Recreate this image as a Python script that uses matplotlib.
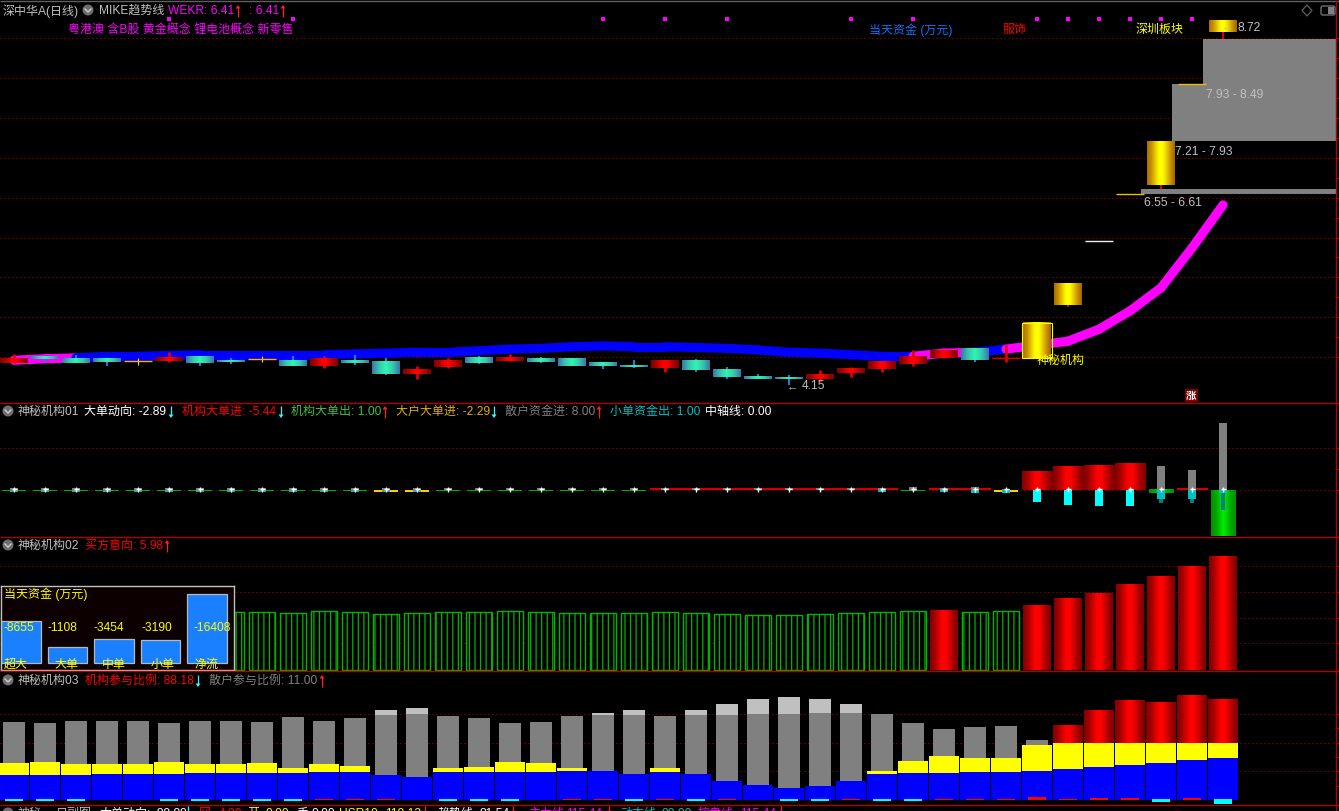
"""K-line sheet with three indicator panes, dark terminal style."""
import matplotlib
matplotlib.use("Agg")
import matplotlib.pyplot as plt
import numpy as np
from matplotlib.colors import LinearSegmentedColormap
from matplotlib.patches import Circle, Polygon, Rectangle, FancyBboxPatch

plt.rcParams["font.family"] = ["Liberation Sans", "Noto Sans CJK SC", "DejaVu Sans"]
plt.rcParams["font.size"] = 8.64
plt.rcParams["hatch.linewidth"] = 0.9

W, H = 1339, 811

# ----------------------------------------------------------------------
# Data
# ----------------------------------------------------------------------
opens = [4.43, 4.51, 4.49, 4.48, 4.45, 4.45, 4.51, 4.46, 4.48, 4.46,
         4.39, 4.46, 4.45, 4.29, 4.38, 4.50, 4.45, 4.49, 4.48, 4.43,
         4.40, 4.36, 4.46, 4.34, 4.26, 4.25, 4.23, 4.30, 4.35, 4.41,
         4.49, 4.60, 4.48, 4.49, 5.15, 5.96, 6.55, 6.66, 7.93, 8.58]
closes = [4.49, 4.48, 4.43, 4.44, 4.45, 4.49, 4.43, 4.44, 4.48, 4.39,
          4.49, 4.43, 4.29, 4.35, 4.46, 4.43, 4.49, 4.44, 4.39, 4.39,
          4.38, 4.45, 4.34, 4.25, 4.23, 4.23, 4.29, 4.36, 4.44, 4.51,
          4.59, 4.46, 4.49, 4.93, 5.42, 5.96, 6.55, 7.21, 7.93, 8.72]
highs = [4.54, 4.51, 4.53, 4.48, 4.49, 4.56, 4.51, 4.49, 4.51, 4.51,
         4.51, 4.53, 4.49, 4.39, 4.49, 4.51, 4.54, 4.50, 4.49, 4.44,
         4.46, 4.45, 4.48, 4.38, 4.29, 4.28, 4.34, 4.38, 4.45, 4.59,
         4.59, 4.61, 4.65, 4.93, 5.42, 5.96, 6.55, 7.21, 7.93, 8.72]
lows = [4.43, 4.44, 4.43, 4.39, 4.40, 4.44, 4.39, 4.41, 4.44, 4.39,
        4.36, 4.40, 4.28, 4.23, 4.36, 4.41, 4.45, 4.43, 4.39, 4.35,
        4.36, 4.31, 4.31, 4.23, 4.23, 4.15, 4.19, 4.25, 4.31, 4.39,
        4.49, 4.44, 4.44, 4.49, 5.13, 5.96, 6.55, 6.61, 7.93, 8.49]
# r rise, t fall, d doji, g limit-up gold, w one-price white
candle_kinds = "rtttdrttdtrttrrtrttttrttttrrrrrtrggwgggg"

trend_line = [4.46, 4.48, 4.49, 4.51, 4.51, 4.52, 4.53, 4.53, 4.53, 4.53,
              4.53, 4.54, 4.55, 4.56, 4.56, 4.58, 4.60, 4.61, 4.63, 4.64,
              4.63, 4.63, 4.62, 4.61, 4.59, 4.56, 4.55, 4.53, 4.51, 4.51,
              4.55, 4.56, 4.60, 4.65, 4.70, 4.85, 5.08, 5.37, 5.87, 6.41]
trend_kinds = "mm" + "b" * 27 + "mm" + "b" + "m" * 7

gap_low = [6.55, 7.21, 7.93]
gap_high = [6.61, 7.93, 8.49]
gap_labels = ["6.55 - 6.61", "7.21 - 7.93", "7.93 - 8.49"]
signal_bars = [5, 9, 19, 21, 23, 27, 29, 33, 34, 35, 36, 37, 38]
price_grid = [4.5, 5.0, 5.5, 6.0, 6.5, 7.0, 7.5, 8.0, 8.5]

big_flow = [-0.15, -0.15, -0.15, -0.15, -0.15, -0.15, -0.15, -0.15, -0.15, -0.15,
            -0.15, -0.15, -0.2, -0.2, -0.15, -0.15, -0.15, -0.15, -0.15, -0.15,
            -0.15, 0.2, 0.2, 0.2, 0.2, 0.2, 0.2, 0.2, 0.2, -0.15,
            0.2, 0.2, -0.2, 2.26, 2.74, 2.86, 3.10, -0.36, 0.2, -5.44]
flow_kinds = "gggggggggggg" + "yy" + "ggggggg" + "rrrrrrrr" + "g" + "rr" + "y" + "rrrr" + "grg"
retail_in = [0.25, 0.25, 0.25, 0.25, 0.25, 0.25, 0.25, 0.25, 0.25, 0.25,
             0.25, 0.25, 0.25, 0.25, 0.2, 0.2, 0.2, 0.2, 0.2, 0.2,
             0.2, 0.2, 0.2, 0.2, 0.2, 0.2, 0.2, 0.2, 0.24, 0.36,
             0.24, 0.36, 0.12, 0.0, 0.0, 0.0, 0.0, 2.86, 2.38, 8.00]
small_out = [-0.2, -0.2, -0.2, -0.2, -0.2, -0.2, -0.2, -0.2, -0.2, -0.2,
             -0.2, -0.2, -0.2, -0.2, 0.0, 0.0, 0.0, 0.0, 0.0, 0.0,
             0.0, 0.0, 0.0, 0.0, 0.0, 0.0, 0.0, 0.0, -0.24, -0.12,
             -0.24, -0.36, -0.36, -1.43, -1.79, -1.90, -1.90, -1.07, -1.07, -0.36]
big_net = [0.0, 0.0, 0.0, 0.0, 0.0, 0.0, 0.0, 0.0, 0.0, 0.0,
           0.0, 0.0, 0.0, 0.0, 0.0, 0.0, 0.0, 0.0, 0.0, 0.0,
           0.0, 0.0, 0.0, 0.0, 0.0, 0.0, 0.0, 0.0, 0.0, 0.0,
           0.0, 0.0, 0.0, 0.0, 0.0, 0.0, 0.0, -1.55, -1.55, -2.40]

buy_intent = [3.07, 3.07, 3.07, 3.07, 3.07, 3.07, 3.07, 3.07, 3.07, 3.02,
              3.12, 3.07, 2.96, 3.02, 3.07, 3.07, 3.12, 3.07, 3.02, 3.02,
              3.02, 3.07, 3.02, 2.96, 2.91, 2.91, 2.96, 3.02, 3.07, 3.12,
              3.17, 3.07, 3.12, 3.39, 3.76, 4.07, 4.50, 4.97, 5.45, 5.98]
intent_solid = [30, 33, 34, 35, 36, 37, 38, 39]

fund_labels = ["超大", "大单", "中单", "小单", "净流"]
fund_values = ["-8655", "-1108", "-3454", "-3190", "-16408"]
fund_bar_heights = [42, 16, 24, 23, 69]

inst_blue = [21.8, 21.8, 21.8, 22.7, 22.7, 22.7, 23.6, 23.6, 23.6, 23.6,
             24.5, 24.5, 21.8, 20.1, 24.5, 24.5, 24.5, 24.5, 25.3, 25.3,
             22.7, 24.5, 22.7, 16.6, 13.1, 10.5, 12.2, 16.6, 22.7, 23.6,
             23.6, 24.5, 24.5, 25.3, 27.1, 28.8, 30.6, 32.3, 34.9, 36.7]
inst_yellow = [32.3, 33.2, 31.4, 31.4, 31.4, 33.2, 31.4, 31.4, 32.3, 27.9,
               31.4, 29.7, 0, 0, 27.9, 28.8, 33.2, 32.3, 27.9, 0,
               0, 27.9, 0, 0, 0, 0, 0, 0, 25.3, 34.1,
               38.4, 36.7, 36.7, 48.0, 49.8, 49.8, 49.8, 49.8, 49.8, 49.8]
inst_red = [0, 0, 0, 0, 0, 0, 0, 0, 0, 0,
            0, 0, 0, 0, 0, 0, 0, 0, 0, 0,
            0, 0, 0, 0, 0, 0, 0, 0, 0, 0,
            0, 0, 0, 0, 65.5, 78.6, 86.5, 85.6, 91.7, 88.2]
retail_gray = [68.1, 67.2, 69.0, 69.0, 69.0, 67.2, 69.0, 69.0, 68.1, 72.5,
               69.0, 71.6, 74.2, 75.1, 73.4, 71.6, 67.2, 68.1, 73.4, 74.2,
               74.2, 73.4, 74.2, 74.2, 75.1, 75.1, 76.0, 76.0, 75.1, 67.2,
               62.0, 63.8, 64.6, 52.4, 0, 0, 0, 0, 0, 0]
retail_light = [0, 0, 0, 0, 0, 0, 0, 0, 0, 0,
                0, 0, 78.6, 80.3, 0, 0, 0, 0, 0, 76.0,
                78.6, 0, 78.6, 83.8, 88.2, 90.0, 88.2, 83.8, 0, 0,
                0, 0, 0, 0, 0, 0, 0, 0, 0, 0]
tail_flow = [-0.9, -0.9, -0.9, 0, 0, -0.9, -0.9, -0.9, -0.9, -0.9,
             0.9, 0.9, 0.9, 0, -0.9, -0.9, -0.9, 0, 0.9, 0.9,
             -0.9, 0.9, -0.9, 0.9, 0, -0.9, -0.5, 0.9, -0.9, -0.9,
             0.9, 0.9, 0.9, 2.6, 0.9, 1.7, 1.7, -1.7, 1.7, -3.5]

GRID_RED = "#b40000"
LINE_RED = "#b00000"
GREY_TEXT = "#c0c0c0"

n_bars = len(opens)
idx = np.arange(n_bars)

red_cm = LinearSegmentedColormap.from_list(
    "r", ["#800000", "#a00000", "#d00000", "#ff0000", "#ff0000", "#d00000", "#a00000", "#800000"])
teal_cm = LinearSegmentedColormap.from_list("t", ["#3a78a8", "#35c8b0", "#30f5b0", "#35c8b0", "#3a78a8"])
gold_cm = LinearSegmentedColormap.from_list(
    "g", ["#a87000", "#c89000", "#e8c800", "#ffff00", "#ffff00", "#e8c800", "#c89000", "#a06800"])
green_cm = LinearSegmentedColormap.from_list("n", ["#009000", "#00b000", "#00f000", "#00b000", "#009000"])
ramp = np.linspace(0, 1, 48)[None, :]


# ----------------------------------------------------------------------
# Helpers
# ----------------------------------------------------------------------
def px_axes(fig, top, bottom, left=0, right=1336):
    ax = fig.add_axes([left / W, 1 - bottom / H, (right - left) / W, (bottom - top) / H])
    ax.set_facecolor("black")
    ax.set_xlim((left - 14) / 31, (right - 14) / 31)
    ax.set_autoscale_on(False)
    ax.set_xticks([])
    for name in ["top", "left", "bottom"]:
        ax.spines[name].set_visible(False)
    ax.spines["right"].set_color(LINE_RED)
    ax.yaxis.tick_right()
    ax.tick_params(axis="y", which="both", colors=LINE_RED, length=2.2, width=0.8, labelright=False)
    return ax


def dotted_grid(ax):
    ax.grid(True, axis="y", color=GRID_RED, lw=0.72, ls=(0, (1, 3)))
    ax.set_axisbelow(True)


def grad_bar(ax, x, y0, y1, width, cmap, zorder=3):
    ax.imshow(ramp, cmap=cmap, extent=(x - width / 2, x + width / 2, y0, y1), aspect="auto",
              interpolation="bilinear", origin="lower", zorder=zorder)


def label(ov, x, y, s, color=GREY_TEXT, **kw):
    ov.text(x, y + 1, s, color=color, va="center", ha=kw.pop("ha", "left"), **kw)


def arrow(ov, x, y, up, color):
    y = y + 1
    sign = -1 if up else 1
    ov.plot([x, x], [y - sign * 6, y + sign * 4], color=color, lw=0.9, solid_capstyle="butt")
    ov.add_patch(Polygon([[x - 2.5, y + sign * 2.5], [x + 2.5, y + sign * 2.5], [x, y + sign * 6]],
                         closed=True, color=color, lw=0))


def icon(ov, x, y):
    ov.add_patch(Circle((x, y), 5.5, color="#6e6e6e", lw=0))
    ov.plot([x - 3, x, x + 3], [y - 1, y + 2, y - 1], color="#d0d0d0", lw=1.0)


# ----------------------------------------------------------------------
# Figure
# ----------------------------------------------------------------------
fig = plt.figure(figsize=(W / 100, H / 100), dpi=100, facecolor="black")

# main pane: price runs 79.7 px per yuan, 4.15 sits at y=385
ax = px_axes(fig, 2, 403)
ax.set_ylim(4.15 - 18 / 79.7, 4.15 + 383 / 79.7)
ax.set_yticks(price_grid)
ax.set_yticks(np.array(price_grid[:-1]) + 0.25, minor=True)
dotted_grid(ax)

for low, high, start in zip(gap_low, gap_high, [36.35, 37.35, 38.35]):
    ax.barh(low, (1336 - 14) / 31 - start, left=start, height=high - low, align="edge",
            color="#808080", zorder=2)

trend_colors = {"m": "#ff00ff", "b": "#0000ff"}
for i in range(n_bars - 1):
    ax.plot(idx[i:i + 2], trend_line[i:i + 2], color=trend_colors[trend_kinds[i]], lw=6.6,
            solid_capstyle="round", zorder=3)

body_cm = {"r": red_cm, "t": teal_cm, "g": gold_cm}
wick_color = {"r": "#e00000", "t": "#2a78c8", "g": "#e00000", "d": "#ffe000", "w": "#ffffff"}
line_color = {"r": "#d00000", "d": "#ffb000", "g": "#e8c000", "w": "#f0f0f0", "t": "#35c8b0"}
wick_lw = {"r": 2.0, "t": 1.6, "g": 1.4, "d": 0.8, "w": 0.8}
for i in range(n_bars):
    kind = candle_kinds[i]
    ax.vlines(i, lows[i], highs[i], color=wick_color[kind], lw=wick_lw[kind], zorder=4)
    top, bottom = max(opens[i], closes[i]), min(opens[i], closes[i])
    if top - bottom < 0.015:
        ax.hlines(top, i - 0.45, i + 0.45, color=line_color[kind], lw=1.0, zorder=5)
    else:
        grad_bar(ax, i, bottom, top, 0.9, body_cm[kind], zorder=5)
ax.add_patch(Rectangle((33 - 0.47, opens[33]), 0.94, closes[33] - opens[33], fill=False,
                       edgecolor="#ffff00", lw=0.8, zorder=6))
ax.plot(signal_bars, [8.74] * len(signal_bars), ls="none", marker="s", ms=2.4, color="#ff00ff",
        mew=0, zorder=6)

# pane 01: 8.4 px per unit, zero at y=490
ax1 = px_axes(fig, 404, 537)
ax1.set_ylim((490 - 537) / 8.4, (490 - 404) / 8.4)
ax1.set_yticks([0, 5])
ax1.set_yticks([2.5], minor=True)
dotted_grid(ax1)
flow_solid = {"g": "#00b000", "r": "#d00000", "y": "#ffd000"}
flow_grad = {"g": green_cm, "r": red_cm}
for i, v in enumerate(big_flow):
    kind = flow_kinds[i]
    width = 1.0 if kind == "r" else 0.8
    if abs(v) < 0.3:
        ax1.bar(i, v, width=width if kind != "y" else 0.75, color=flow_solid[kind], zorder=3)
    else:
        grad_bar(ax1, i, min(v, 0), max(v, 0), width, flow_grad[kind], zorder=3)
ax1.bar(idx, retail_in, width=0.29, color="#808080", zorder=4)
ax1.bar(idx, big_net, width=0.16, color="#008080", zorder=4)
cyan_colors = ["#00ffff" if v < -1.2 else "#00c0c0" if v < -0.22 else "#40a0a0" for v in small_out]
ax1.bar(idx, small_out, width=0.29, color=cyan_colors, zorder=5)
ax1.plot(idx, [0.14] * n_bars, ls="none", marker="+", ms=3.6, mew=1.0, color="white", zorder=6)

# pane 02: 18.9 px per unit, zero at y=670
ax2 = px_axes(fig, 538, 671)
ax2.set_ylim(-1 / 18.9, 132 / 18.9)
ax2.set_yticks([1.43, 2.75, 4.13, 5.50])
dotted_grid(ax2)
for i, v in enumerate(buy_intent):
    if i in intent_solid:
        grad_bar(ax2, i, 0, v, 0.88, red_cm)
    else:
        ax2.bar(i, v, width=0.86, facecolor="black", edgecolor="#00b400", lw=1.0, hatch="|||", zorder=3)

# pane 03: 1.145 px per percent, zero at y=800
ax3 = px_axes(fig, 672, 805)
ax3.set_ylim(-5 / 1.145, 128 / 1.145)
ax3.set_yticks([25, 50, 75])
ax3.set_yticks([12.5, 37.5, 62.5], minor=True)
dotted_grid(ax3)
ax3.bar(idx, retail_light, width=0.68, color="#c0c0c0", zorder=3)
ax3.bar(idx, retail_gray, width=0.68, color="#808080", zorder=3)
for i, v in enumerate(inst_red):
    if v > 0:
        grad_bar(ax3, i, inst_yellow[i], v, 0.94, red_cm, zorder=3)
ax3.bar(idx, inst_yellow, width=0.94, color="#ffff00", zorder=4)
ax3.bar(idx, inst_blue, width=0.94, color="#0000ff", zorder=5)
for i, v in enumerate(tail_flow):
    if v > 0:
        ax3.bar(i, v, width=0.55, color="#ff0000", zorder=6)
    elif v < 0:
        ax3.bar(i, v - 0.9, bottom=0.9, width=0.55, color="#00ffff", zorder=6)

# fund box sitting over pane 02
box = fig.add_axes([1 / W, 1 - 670 / H, 233 / W, 84 / H], zorder=5)
box.set_facecolor("#0c0000")
box.set_xlim((1 - 21) / 46.5, (234 - 21) / 46.5)
box.set_ylim(-7, 77)
box.set_xticks([])
box.set_yticks([])
for spine in box.spines.values():
    spine.set_color("#c0c0c0")
    spine.set_linewidth(1.0)
box.bar(range(5), fund_bar_heights, width=0.86, color="#1a80ff", edgecolor="#b8b8b8", lw=0.9)

# ----------------------------------------------------------------------
# Overlay in pixel coordinates: separators, captions, small icons
# ----------------------------------------------------------------------
ov = fig.add_axes([0, 0, 1, 1], zorder=10)
ov.patch.set_alpha(0)
ov.set_xlim(0, W)
ov.set_ylim(H, 0)
ov.set_axis_off()
ov.set_autoscale_on(False)

ov.hlines([403, 537, 671, 805], 0, W, color=LINE_RED, lw=1.0)
ov.hlines(0.7, 0, W, color="#606060", lw=1.0)
ov.vlines(1336, 0, H, color=LINE_RED, lw=0.9)

# title row
label(ov, 3, 10, "深中华A(日线)")
icon(ov, 88, 10)
label(ov, 99, 10, "MIKE趋势线")
label(ov, 168, 10, "WEKR: 6.41", color="#ff00ff")
arrow(ov, 238, 10, True, "#ff2020")
label(ov, 249, 10, ": 6.41", color="#ff00ff")
arrow(ov, 283, 10, True, "#ff2020")
label(ov, 68, 29, "粤港澳 含B股 黄金概念 锂电池概念 新零售", color="#ff00ff")
label(ov, 869, 29, "当天资金 (万元)", color="#0a70ff")
label(ov, 1003, 29, "服饰", color="#ff0000")
label(ov, 1136, 29, "深圳板块", color="#ffff00")
ov.add_patch(Polygon([[1307, 5], [1312, 10.5], [1307, 16], [1302, 10.5]], closed=True, fill=False,
                     edgecolor="#606060", lw=0.9))
ov.add_patch(FancyBboxPatch((1321, 6), 14, 9, boxstyle="round,pad=0,rounding_size=2", fill=False,
                            edgecolor="#707070", lw=1.0))
ov.add_patch(Rectangle((1328, 7), 5.5, 7, color="#808080", lw=0))

# main pane captions
label(ov, 1144, 202, gap_labels[0])
label(ov, 1175, 151, gap_labels[1])
label(ov, 1206, 94, gap_labels[2])
label(ov, 787, 385, "←", fontsize=8)
label(ov, 802, 385, "4.15")
label(ov, 1222, 25, "←", fontsize=8)
label(ov, 1238, 27, "8.72")
label(ov, 1037, 360, "神秘机构", color="#ffff00")
ov.add_patch(Rectangle((1185, 389), 13, 13, color="#800000", lw=0))
label(ov, 1191.5, 394.5, "涨", color="white", ha="center", fontsize=7.5, fontweight="bold")

# pane headers
icon(ov, 8, 411)
label(ov, 18, 411, "神秘机构01")
label(ov, 84, 411, "大单动向: -2.89", color="white")
arrow(ov, 171, 411, False, "#40f0ff")
label(ov, 182, 411, "机构大单进: -5.44", color="#ff0000")
arrow(ov, 281, 411, False, "#40f0ff")
label(ov, 291, 411, "机构大单出: 1.00", color="#40c040")
arrow(ov, 385, 411, True, "#ff2020")
label(ov, 396, 411, "大户大单进: -2.29", color="#e0b000")
arrow(ov, 494, 411, False, "#40f0ff")
label(ov, 505, 411, "散户资金进: 8.00", color="#808080")
arrow(ov, 599, 411, True, "#ff2020")
label(ov, 610, 411, "小单资金出: 1.00", color="#00c0c0")
label(ov, 705, 411, "中轴线: 0.00", color="white")

icon(ov, 8, 545)
label(ov, 18, 545, "神秘机构02")
label(ov, 85, 545, "买方意向: 5.98", color="#ff0000")
arrow(ov, 167, 545, True, "#ff2020")

icon(ov, 8, 680)
label(ov, 18, 680, "神秘机构03")
label(ov, 85, 680, "机构参与比例: 88.18", color="#ff0000")
arrow(ov, 198, 680, False, "#40f0ff")
label(ov, 209, 680, "散户参与比例: 11.00", color="#808080")
arrow(ov, 322, 680, True, "#ff2020")

# fund box captions
label(ov, 4, 593, "当天资金 (万元)", color="#ffff00")
for x, s in zip([3, 47, 94, 142, 194], fund_values):
    label(ov, x, 627, s, color="#ffff00")
for x, s in zip([4, 54, 102, 151, 194], fund_labels):
    label(ov, x, 664, s, color="#ffff00")

# status row, cut by the lower edge like the original
icon(ov, 8, 813)
label(ov, 18, 813, "神秘-")
label(ov, 56, 813, "日副图")
label(ov, 99, 813, "大单动向:", color="white")
label(ov, 153, 813, "-89.89", color="white")
label(ov, 199, 813, "冈", color="#ff0000")
label(ov, 219, 813, "4.00", color="#ff0000")
label(ov, 247, 813, "开", color="#ffff00")
label(ov, 265, 813, "0.00", color="#ffff00")
label(ov, 296, 813, "手", color="white")
label(ov, 311, 813, "0.00", color="white")
label(ov, 339, 813, "HSR10", color="#ffff00")
label(ov, 385, 813, "119.13", color="#ffff00")
label(ov, 438, 813, "趋势线", color="white")
label(ov, 480, 813, "81.54", color="white")
label(ov, 528, 813, "主力线", color="#ff00ff")
label(ov, 566, 813, "115.44", color="#ff00ff")
label(ov, 620, 813, "动态线", color="#00c0c0")
label(ov, 662, 813, "00.00", color="#00c0c0")
label(ov, 698, 813, "控盘线", color="#ff00ff")
label(ov, 740, 813, "115.44", color="#ff00ff")
for x in [425, 513, 609, 781]:
    ov.vlines(x, 806, H, color="#ff2020", lw=1.0)
ov.vlines(188, 806, H, color="#40f0ff", lw=1.0)

fig.savefig("out.png", dpi=100, facecolor="black")
